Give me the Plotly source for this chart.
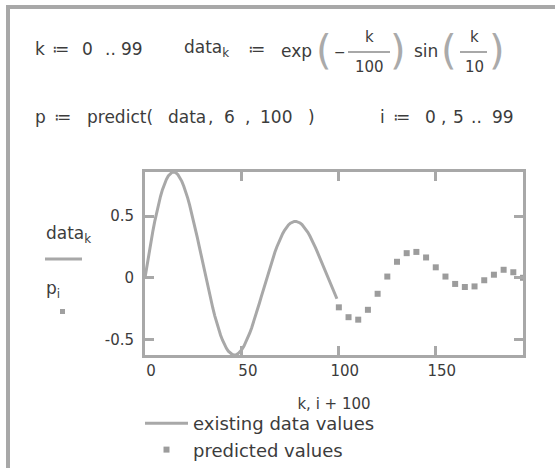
import plotly.graph_objects as go

# ---------------- data ----------------
k_vals = list(range(100))
data_vals = [
    0.000, 0.099, 0.195, 0.287, 0.374, 0.456, 0.532, 0.601, 0.662, 0.716,
    0.761, 0.798, 0.827, 0.846, 0.857, 0.859, 0.852, 0.837, 0.813, 0.783,
    0.744, 0.700, 0.649, 0.592, 0.531, 0.466, 0.398, 0.326, 0.253, 0.179,
    0.105, 0.031, -0.042, -0.113, -0.182, -0.247, -0.309, -0.366, -0.418, -0.466,
    -0.507, -0.543, -0.573, -0.596, -0.613, -0.623, -0.627, -0.625, -0.616, -0.602,
    -0.582, -0.556, -0.525, -0.490, -0.450, -0.407, -0.361, -0.311, -0.260, -0.207,
    -0.153, -0.099, -0.045, 0.009, 0.061, 0.112, 0.161, 0.207, 0.250, 0.290,
    0.326, 0.358, 0.386, 0.410, 0.429, 0.443, 0.453, 0.458, 0.458, 0.453,
    0.445, 0.432, 0.414, 0.393, 0.369, 0.341, 0.311, 0.278, 0.243, 0.206,
    0.168, 0.128, 0.089, 0.049, 0.010, -0.029, -0.067, -0.103, -0.138, -0.170,
]
pred_x = [100, 105, 110, 115, 120, 125, 130, 135, 140, 145,
          150, 155, 160, 165, 170, 175, 180, 185, 190, 195]
pred_vals = [-0.24, -0.32, -0.34, -0.26, -0.13, 0.01, 0.13, 0.20, 0.21, 0.165,
             0.085, 0.01, -0.05, -0.075, -0.07, -0.02, 0.025, 0.065, 0.045, 0.0]

x_tickvals = [0, 50, 100, 150]
x_ticktext = ["0", "50", "100", "150"]
y_tickvals = [-0.5, 0, 0.5]
y_ticktext = ["-0.5", "0", "0.5"]

# ---------------- layout helpers ----------------
W, H = 555, 468
L, R, T, B = 145, 523, 172, 355
FONT = "DejaVu Sans"
TXT = "#3c3c3c"
GRAY = "#a8a8a8"


def px(x):
    return (x - L) / (R - L)


def py(y):
    return (B - y) / (B - T)


fig = go.Figure()
fig.add_trace(go.Scatter(x=k_vals, y=data_vals, mode="lines",
                         line=dict(color=GRAY, width=3),
                         name="existing data values", legendgroup="a"))
fig.add_trace(go.Scatter(x=pred_x, y=pred_vals, mode="markers",
                         marker=dict(symbol="square", size=6, color="#9c9c9c"),
                         name="predicted values", legendgroup="b"))

ann = []


def text(s, x, y, size=17, xanchor="left", color=TXT):
    ann.append(dict(text=s, x=px(x), y=py(y), xref="paper", yref="paper",
                    xanchor=xanchor, yanchor="middle", showarrow=False,
                    font=dict(family=FONT, size=size, color=color)))


def sub(base, s):
    return base + "<sub><span style='color:%s'>%s</span></sub>" % (TXT, s)


PAR = dict(size=40, color="#aaaaaa")

# line 1
text("k", 33, 49)
text("\u2254", 60, 49, xanchor="center")
text("0", 87, 49, xanchor="center")
text("..", 110, 49, xanchor="center")
text("99", 132, 49, xanchor="center")
text(sub("data", "k"), 182, 49)
text("\u2254", 256, 49, xanchor="center")
text("exp", 279, 51)
text("(", 324, 50, xanchor="center", **PAR)
text("\u2212", 340, 52, xanchor="center", size=14)
text("k", 369, 37, size=15, xanchor="center")
text("100", 369, 67, size=15, xanchor="center")
text(")", 398, 50, xanchor="center", **PAR)
text("sin", 412, 51)
text("(", 449, 50, xanchor="center", **PAR)
text("k", 474, 37, size=15, xanchor="center")
text("10", 474, 67, size=15, xanchor="center")
text(")", 497, 50, xanchor="center", **PAR)

# line 2
text("p", 33, 117)
text("\u2254", 62, 117, xanchor="center")
text("predict(", 85, 117)
text("data", 166, 117)
text(",", 210, 117, xanchor="center")
text("6", 229, 117, xanchor="center")
text(",", 247, 117, xanchor="center")
text("100", 258, 117)
text(")", 311, 117, xanchor="center")
text("i", 382, 117, xanchor="center")
text("\u2254", 401, 117, xanchor="center")
text("0", 430, 117, xanchor="center")
text(",", 443, 117, xanchor="center")
text("5", 458, 117, xanchor="center")
text("..", 476, 117, xanchor="center")
text("99", 503, 117, xanchor="center")

# y-axis label stack
text(sub("data", "k"), 44, 234)
text(sub("p", "i"), 44, 289)

shapes = [
    # worksheet borders
    dict(type="line", xref="paper", yref="paper", x0=px(8), x1=px(8), y0=py(5), y1=py(470),
         line=dict(color=GRAY, width=4)),
    dict(type="line", xref="paper", yref="paper", x0=px(6), x1=px(560), y0=py(7), y1=py(7),
         line=dict(color=GRAY, width=4)),
    # fraction bars
    dict(type="line", xref="paper", yref="paper", x0=px(348), x1=px(390), y0=py(52), y1=py(52),
         line=dict(color=GRAY, width=2)),
    dict(type="line", xref="paper", yref="paper", x0=px(460), x1=px(487), y0=py(52), y1=py(52),
         line=dict(color=GRAY, width=2)),
    # y label trace style indicators
    dict(type="line", xref="paper", yref="paper", x0=px(45), x1=px(82), y0=py(259), y1=py(259),
         line=dict(color=GRAY, width=3)),
    dict(type="rect", xref="paper", yref="paper", x0=px(60), x1=px(65), y0=py(309), y1=py(314),
         line=dict(width=0), fillcolor="#a0a0a0"),
]

axis_common = dict(showline=True, linecolor=GRAY, linewidth=3, mirror="ticks",
                   ticks="inside", ticklen=9, tickwidth=3, tickcolor=GRAY,
                   showgrid=False, zeroline=False, automargin=False,
                   tickfont=dict(family=FONT, size=15, color=TXT))

fig.update_layout(
    width=W, height=H,
    margin=dict(l=L, r=W - R, t=T, b=H - B, autoexpand=False),
    paper_bgcolor="white", plot_bgcolor="white",
    xaxis=dict(range=[0, 195], tickvals=x_tickvals, ticktext=x_ticktext,
               ticklabelstandoff=0, ticklabelshift=6,
               title=dict(text="k, i + 100", standoff=20,
                          font=dict(family=FONT, size=15, color=TXT)),
               **axis_common),
    yaxis=dict(range=[-0.627, 0.859], tickvals=y_tickvals, ticktext=y_ticktext,
               ticklabelstandoff=5, **axis_common),
    showlegend=True,
    legend=dict(x=px(140), y=py(405), xanchor="left", yanchor="top",
                bgcolor="rgba(0,0,0,0)", itemwidth=43, tracegroupgap=0,
                font=dict(family=FONT, size=18, color=TXT)),
    annotations=ann,
    shapes=shapes,
)

fig.write_html("out.html", config={"displayModeBar": False},
               post_script="document.body.style.margin='0';")
